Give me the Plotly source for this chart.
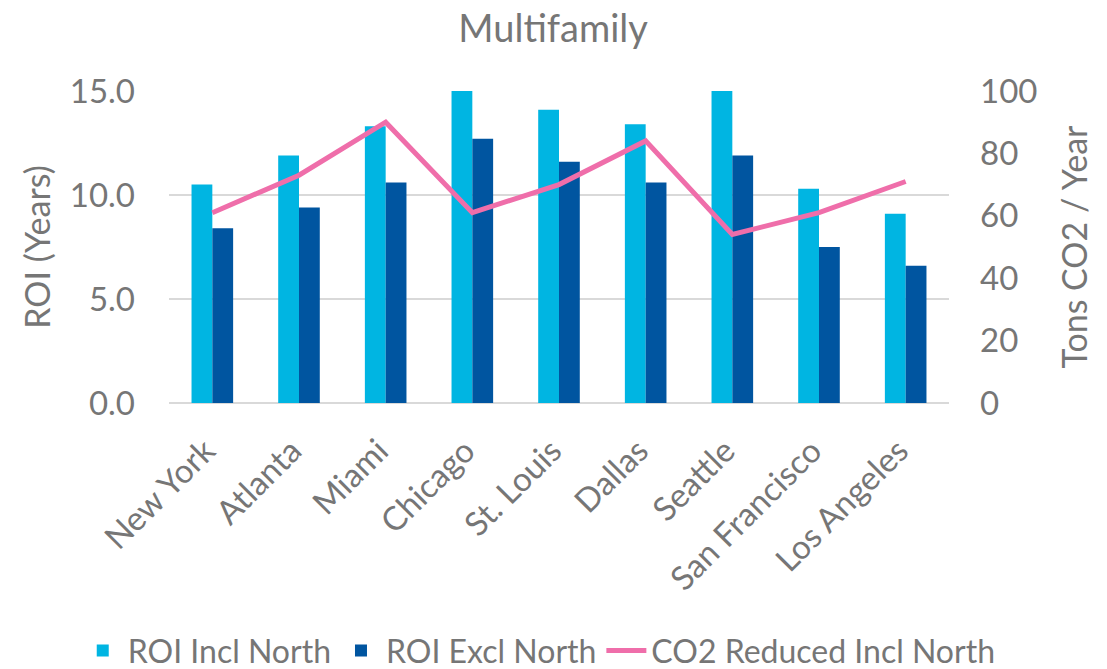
import plotly.graph_objects as go

cities = ["New York", "Atlanta", "Miami", "Chicago", "St. Louis", "Dallas",
          "Seattle", "San Francisco", "Los Angeles"]
roi_incl = [10.5, 11.9, 13.3, 15.0, 14.1, 13.4, 15.0, 10.3, 9.1]
roi_excl = [8.4, 9.4, 10.6, 12.7, 11.6, 10.6, 11.9, 7.5, 6.6]
co2_incl = [61, 73, 90, 61, 70, 84, 54, 61, 71]

FONT = "Lato, 'Open Sans', sans-serif"
GREY = "#767676"
C_LIGHT = "#00B5E2"
C_DARK = "#0055A0"
C_PINK = "#EF6EAA"

fig = go.Figure()
fig.add_trace(go.Bar(x=cities, y=roi_incl, name="ROI Incl North",
                     marker=dict(color=C_LIGHT, line=dict(width=0))))
fig.add_trace(go.Bar(x=cities, y=roi_excl, name="ROI Excl North",
                     marker=dict(color=C_DARK, line=dict(width=0))))
fig.add_trace(go.Scatter(x=cities, y=co2_incl, name="CO2 Reduced Incl North",
                         mode="lines", yaxis="y2",
                         line=dict(color=C_PINK, width=5)))

# page body has an 8px margin, so the figure is sized 8px smaller
fig.update_layout(
    width=1099, height=661,
    paper_bgcolor="white", plot_bgcolor="white",
    margin=dict(l=161, r=158, t=83, b=266, pad=0, autoexpand=False),
    font=dict(family=FONT, size=32, color=GREY),
    title=dict(text="Multifamily", x=0.496, xanchor="center", xref="container",
               yref="container", y=0.968, yanchor="middle",
               font=dict(size=38, color=GREY)),
    barmode="group", bargap=0.52, bargroupgap=0,
    showlegend=True,
    legend=dict(orientation="h", xref="paper", yref="paper",
                x=-0.117, xanchor="left", y=-0.706, yanchor="top",
                font=dict(size=32, color=GREY), itemsizing="constant",
                traceorder="normal", itemwidth=40, tracegroupgap=0,
                bgcolor="rgba(0,0,0,0)"),
    xaxis=dict(tickangle=-45, showgrid=False, showline=False, ticks="",
               automargin=False, ticklabelstandoff=21, ticklabelshift=-7,
               tickfont=dict(size=33, color=GREY)),
    yaxis=dict(range=[0, 15], dtick=5, tickformat=".1f", automargin=False,
               showgrid=True, gridcolor="#D9D9D9", gridwidth=1.5,
               zeroline=True, zerolinecolor="#D9D9D9", zerolinewidth=1.5,
               showline=False, ticks="", ticklabelstandoff=33,
               tickfont=dict(size=33, color=GREY),
               title=dict(text="ROI (Years)", font=dict(size=34, color=GREY),
                          standoff=8)),
    yaxis2=dict(range=[0, 100], dtick=20, overlaying="y", side="right",
                automargin=False,
                showgrid=False, zeroline=False, showline=False, ticks="",
                ticklabelstandoff=30,
                tickfont=dict(size=33, color=GREY),
                title=dict(text="Tons CO2 / Year", font=dict(size=34, color=GREY),
                           standoff=26)),
)

fig.write_html("out.html")
